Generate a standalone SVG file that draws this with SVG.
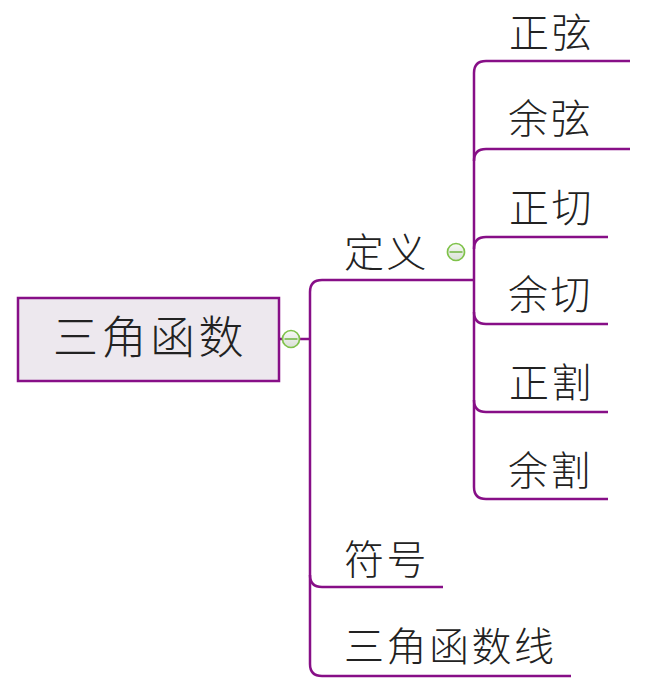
<svg xmlns="http://www.w3.org/2000/svg" width="658" height="693" viewBox="0 0 658 693">
<style>
.c{fill:none;stroke:#870f87;stroke-width:2.5;stroke-linecap:butt}
text{font-family:"Noto Sans CJK SC","Noto Sans CJK TC",sans-serif;font-weight:300;fill:#222222}
.t{font-size:40px;letter-spacing:2.5px}
.r{font-size:45px;letter-spacing:3.5px}
.m{stroke:#6fb53f;stroke-width:1.5}
</style>
<defs>
<linearGradient id="g" x1="0" y1="0" x2="0" y2="1"><stop offset="0" stop-color="#f8faf6"/><stop offset="1" stop-color="#d9dfd6"/></linearGradient>
<symbol id="minus" viewBox="-10 -10 20 20" overflow="visible"><circle r="8.5" fill="url(#g)" stroke="#7fc24a" stroke-width="1.7"/><path d="M-6.5 0H6.5" class="m"/></symbol>
</defs>
<g id="connectors">
<path class="c" d="M279 339H310"/>
<path class="c" d="M443 587H322Q310 587 310 575V292Q310 280 322 280H474"/>
<path class="c" d="M571 676H322Q310 676 310 664V575"/>
<path class="c" d="M630 61H486Q474 61 474 73V487Q474 499 486 499H608"/>
<path class="c" d="M630 149H486Q474 149 474 161"/>
<path class="c" d="M608 237H486Q474 237 474 249"/>
<path class="c" d="M608 324H486Q474 324 474 312"/>
<path class="c" d="M608 412H486Q474 412 474 400"/>
</g>
<g id="root"><rect x="18" y="298" width="261" height="83" fill="#ede8ee" stroke="#870f87" stroke-width="2.5"/><text class="r" x="53" y="354">三角函数</text></g>
<g id="toggle-root"><use href="#minus" x="281" y="329" width="20" height="20"/></g>
<g id="toggle-def"><use href="#minus" x="446" y="242" width="20" height="20"/></g>
<g id="n-def"><text class="t" x="344" y="267">定义</text></g>
<g id="n-sign"><text class="t" x="344" y="574">符号</text></g>
<g id="n-line"><text class="t" x="344" y="661">三角函数线</text></g>
<g id="n-sin"><text class="t" x="509" y="47">正弦</text></g>
<g id="n-cos"><text class="t" x="508" y="133">余弦</text></g>
<g id="n-tan"><text class="t" x="509" y="222">正切</text></g>
<g id="n-cot"><text class="t" x="508" y="309">余切</text></g>
<g id="n-sec"><text class="t" x="509" y="397">正割</text></g>
<g id="n-csc"><text class="t" x="508" y="485">余割</text></g>
</svg>
